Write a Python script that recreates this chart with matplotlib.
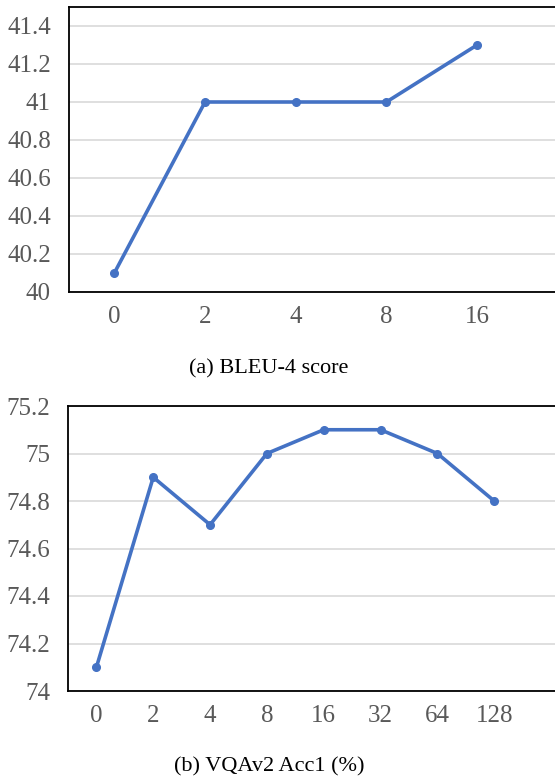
import matplotlib
matplotlib.use("Agg")
import matplotlib.pyplot as plt

a_labels = ["0", "2", "4", "8", "16"]
a_values = [40.1, 41.0, 41.0, 41.0, 41.3]
a_yticks = [40, 40.2, 40.4, 40.6, 40.8, 41, 41.2, 41.4]
a_caption = "(a) BLEU-4 score"

b_labels = ["0", "2", "4", "8", "16", "32", "64", "128"]
b_values = [74.1, 74.9, 74.7, 75.0, 75.1, 75.1, 75.0, 74.8]
b_yticks = [74, 74.2, 74.4, 74.6, 74.8, 75, 75.2]
b_caption = "(b) VQAv2 Acc1 (%)"

plt.rcParams['font.family'] = ['Liberation Serif', 'DejaVu Serif']

W, H = 555, 780
fig = plt.figure(figsize=(W / 100, H / 100), dpi=100)

line_color = "#4472C4"
tick_color = "#595959"

def px_axes(x0, y0, x1, y1):
    return fig.add_axes([x0 / W, 1 - y1 / H, (x1 - x0) / W, (y1 - y0) / H])

def draw(ax, labels, values, yticks, ylim, xmax, fmt):
    x = list(range(len(labels)))
    ax.plot(x, values, color=line_color, lw=2.6, marker='o', ms=5.5, zorder=3)
    ax.set_xlim(-0.5, xmax)
    ax.set_ylim(*ylim)
    ax.set_xticks(x)
    ax.set_xticklabels(labels)
    ax.set_yticks(yticks)
    ax.set_yticklabels([fmt(v) for v in yticks])
    ax.grid(axis='y', color='#d9d9d9', lw=1.2, zorder=0)
    ax.tick_params(axis='both', length=0, labelsize=18, labelcolor=tick_color)
    ax.tick_params(axis='y', pad=13)
    ax.tick_params(axis='x', pad=10)
    for s in ax.spines.values():
        s.set_color('black')
        s.set_linewidth(1.3)

def fmt(v):
    s = f"{v:.1f}"
    if s.endswith(".0"):
        s = s[:-2]
    return s

ax1 = px_axes(69, 7, 570, 292)
draw(ax1, a_labels, a_values, a_yticks, (40, 41.5), 4.86 + 15 / 91, fmt)
fig.text(269 / W, 1 - 369 / H, a_caption, ha='center', va='center', fontsize=16)

ax2 = px_axes(68, 406, 570, 691)
draw(ax2, b_labels, b_values, b_yticks, (74, 75.2), 8.07 + 15 / 57, fmt)
fig.text(269 / W, 1 - 767 / H, b_caption, ha='center', va='center', fontsize=16)

fig.savefig("out.png", dpi=100)
